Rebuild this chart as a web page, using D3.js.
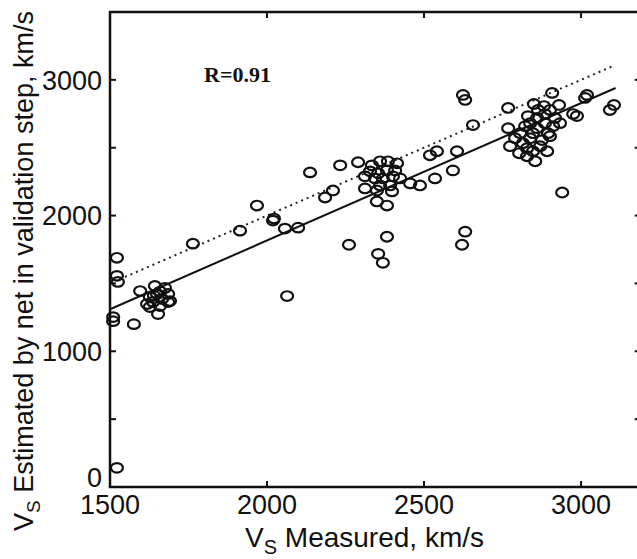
<!DOCTYPE html>
<html>
<head>
<meta charset="utf-8">
<script src="https://cdn.jsdelivr.net/npm/d3@7"></script>
<style>
    body { margin: 0; background: white; }
    svg { display: block; }
</style>
</head>
<body>
<div id="container"></div>
<script>
// measured Vs (x) and network estimate (y)
var measured = [
    1522, 1522, 1525, 1510, 1510, 1576, 1522,
    1596, 1643, 1675, 1627, 1650, 1666, 1685, 1618, 1637, 1659, 1685, 1653, 1627, 1691, 1660, 1640,
    1764, 1914, 1968, 2019, 2022, 2057, 2099, 2137, 2064,
    2233, 2290, 2210, 2185, 2334, 2360, 2385, 2414, 2328, 2354, 2382, 2408, 2312, 2344, 2369, 2401,
    2424, 2360, 2392, 2312, 2350, 2398, 2350, 2382, 2456, 2487, 2535, 2592, 2519, 2541, 2605,
    2382, 2261, 2354, 2369, 2631, 2621,
    2624, 2631, 2768, 2768, 2656,
    2774, 2854, 2908, 2850, 2882, 2930, 3019, 3013, 2975, 2987, 3105, 3092, 2940, 2870, 2876,
    2790, 2806, 2815, 2828, 2838, 2847, 2860, 2885, 2860, 2895, 2901, 2838, 2822, 2885, 2917,
    2901, 2863, 2831, 2911, 2803, 2828, 2892, 2933, 2847
];
var estimated = [
    1689, 1556, 1511, 1252, 1222, 1200, 141,
    1444, 1481, 1467, 1400, 1422, 1385, 1422, 1348, 1363, 1333, 1363, 1274, 1326, 1370, 1440, 1410,
    1793, 1889, 2074, 1963, 1978, 1904, 1911, 2318, 1407,
    2370, 2393, 2185, 2133, 2370, 2400, 2400, 2385, 2326, 2311, 2333, 2333, 2289, 2274, 2274, 2289,
    2274, 2222, 2222, 2200, 2185, 2178, 2104, 2074, 2237, 2222, 2274, 2333, 2444, 2474, 2474,
    1844, 1785, 1718, 1652, 1881, 1785,
    2889, 2852, 2793, 2644, 2667,
    2511, 2400, 2904, 2822, 2807, 2815, 2889, 2867, 2748, 2733, 2815, 2778, 2170, 2511, 2556,
    2570, 2607, 2533, 2496, 2570, 2474, 2719, 2681, 2644, 2607, 2585, 2681, 2659, 2748, 2719,
    2778, 2778, 2733, 2659, 2459, 2437, 2474, 2681, 2607
];

// regression line (solid) and Y = T line (dotted)
var fitX = [1500, 3110],
    fitY = [1310, 2940];
var idealX = [1530, 3100],
    idealY = [1530, 3100];

var xTicks = [1500, 2000, 2500, 3000],
    yTicks = [0, 500, 1000, 1500, 2000, 2500, 3000, 3500],
    yLabels = [0, 1000, 2000, 3000];

var width = 637,
    height = 559;

var svg = d3.select("#container")
    .append("svg")
    .attr("width", width)
    .attr("height", height);

var x = d3.scaleLinear().domain([1500, 3190]).range([110, 640.7]);
var y = d3.scaleLinear().domain([0, 3500]).range([487, 12]);

var axisFont = "'Liberation Sans', Arial, sans-serif";

// ticks, all pointing inward
var tickG = svg.append("g")
    .attr("stroke", "#111")
    .attr("stroke-width", 2);

xTicks.forEach(function (t) {
    tickG.append("line")
        .attr("x1", x(t)).attr("x2", x(t))
        .attr("y1", y(0)).attr("y2", y(0) - 6);
    tickG.append("line")
        .attr("x1", x(t)).attr("x2", x(t))
        .attr("y1", y(3500)).attr("y2", y(3500) + 6);
});
yTicks.forEach(function (t) {
    tickG.append("line")
        .attr("x1", x(1500)).attr("x2", x(1500) + 6)
        .attr("y1", y(t)).attr("y2", y(t));
    tickG.append("line")
        .attr("x1", x(3190)).attr("x2", x(3190) - 6)
        .attr("y1", y(t)).attr("y2", y(t));
});

// frame
svg.append("rect")
    .attr("x", x(1500))
    .attr("y", y(3500))
    .attr("width", x(3190) - x(1500))
    .attr("height", y(0) - y(3500))
    .attr("fill", "none")
    .attr("stroke", "#111")
    .attr("stroke-width", 2.5);

// tick labels
svg.append("g").selectAll("text")
    .data(xTicks)
    .enter().append("text")
    .attr("x", function (d) { return x(d); })
    .attr("y", 514)
    .attr("text-anchor", "middle")
    .attr("font-family", axisFont)
    .attr("font-size", "27px")
    .attr("fill", "#111")
    .text(function (d) { return d; });

svg.append("g").selectAll("text")
    .data(yLabels)
    .enter().append("text")
    .attr("x", 102)
    .attr("y", function (d) { return d === 0 ? y(d) - 10 : y(d); })
    .attr("dy", "0.36em")
    .attr("text-anchor", "end")
    .attr("font-family", axisFont)
    .attr("font-size", "27px")
    .attr("fill", "#111")
    .text(function (d) { return d; });

// lines
var line = d3.line()
    .x(function (d) { return x(d[0]); })
    .y(function (d) { return y(d[1]); });

svg.append("path")
    .attr("d", line(d3.zip(fitX, fitY)))
    .attr("fill", "none")
    .attr("stroke", "#111")
    .attr("stroke-width", 2);

svg.append("path")
    .attr("d", line(d3.zip(idealX, idealY)))
    .attr("fill", "none")
    .attr("stroke", "#222")
    .attr("stroke-width", 2)
    .attr("stroke-dasharray", "2,4");

// data markers
svg.append("g").selectAll("ellipse")
    .data(d3.zip(measured, estimated))
    .enter().append("ellipse")
    .attr("cx", function (d) { return x(d[0]); })
    .attr("cy", function (d) { return y(d[1]); })
    .attr("rx", 6)
    .attr("ry", 4.8)
    .attr("fill", "none")
    .attr("stroke", "#111")
    .attr("stroke-width", 2.2);

// R annotation
svg.append("text")
    .attr("x", 204)
    .attr("y", 82)
    .attr("font-family", "'Liberation Serif', 'Times New Roman', serif")
    .attr("font-weight", "bold")
    .attr("font-size", "22px")
    .attr("fill", "#111")
    .text("R=0.91");

// axis titles
var xt = svg.append("text")
    .attr("x", 245)
    .attr("y", 547)
    .attr("font-family", axisFont)
    .attr("font-size", "28px")
    .attr("fill", "#111");
xt.append("tspan").text("V");
xt.append("tspan").attr("font-size", "20px").attr("dy", 7).text("S");
xt.append("tspan").attr("dy", -7).text(" Measured, km/s");

var yt = svg.append("text")
    .attr("transform", "translate(33,531) rotate(-90)")
    .attr("font-family", axisFont)
    .attr("font-size", "27px")
    .attr("fill", "#111");
yt.append("tspan").text("V");
yt.append("tspan").attr("font-size", "19px").attr("dy", 7).text("S");
yt.append("tspan").attr("dy", -7).text(" Estimated by net in validation step, km/s");
</script>
</body>
</html>
